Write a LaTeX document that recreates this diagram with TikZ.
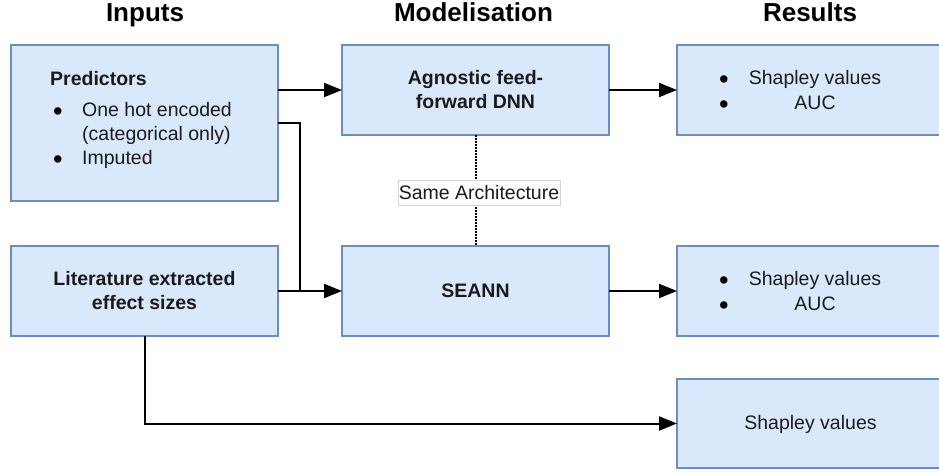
\documentclass[tikz,border=0pt]{standalone}
\usepackage{fontspec}
\setmainfont{Liberation Sans}
\usetikzlibrary{arrows.meta}
\definecolor{boxfill}{HTML}{DAE8FC}
\definecolor{boxline}{HTML}{6C8EBF}
\definecolor{txt}{HTML}{1A1A1A}
\definecolor{lblline}{HTML}{D6D6D6}
\newcommand{\bigbul}{\raisebox{-4.4pt}{\scalebox{1.4}{\textbullet}}}
\begin{document}
\begin{tikzpicture}[x=1pt,y=-1pt,
  box/.style={draw=boxline, fill=boxfill, line width=2pt, minimum width=267pt, inner sep=0pt, outer sep=0pt},
  lbl/.style={font=\fontsize{19.5}{24}\selectfont, text=txt, inner sep=0pt},
  blbl/.style={font=\fontsize{19.5}{24}\selectfont\bfseries, text=txt, inner sep=0pt},
  ttl/.style={font=\fontsize{26}{30}\selectfont\bfseries, inner sep=0pt, anchor=base},
  bul/.style={font=\fontsize{19.5}{24}\selectfont, text=black, inner sep=0pt, anchor=base},
  conn/.style={line width=2pt, -{Triangle[length=18pt,width=14pt]}},
  wire/.style={line width=2pt}]
\useasboundingbox (0,0) rectangle (939,474);

% titles
\node[ttl] (t1) at (145,21.5) {Inputs};
\node[ttl] (t2) at (473.5,21.5) {Modelisation};
\node[ttl] (t3) at (810,21.5) {Results};

% boxes
\node[box, minimum height=156pt] (pred) at (144.5,123) {};
\node[box, minimum height=90pt] (lit) at (144.5,291) {};
\node[box, minimum height=90pt] (agn) at (475.5,90) {};
\node[box, minimum height=90pt] (sea) at (475.5,291) {};
\node[box, minimum height=90pt] (res1) at (810.5,90) {};
\node[box, minimum height=90pt] (res2) at (810.5,291) {};
\node[box, minimum height=89pt] (res3) at (810.5,423.5) {};

% predictors text
\node[blbl, anchor=base west] (ptitle) at (50,85) {Predictors};
\node[bul] (pb1) at (58,116) {\bigbul};
\node[lbl, anchor=base west] (pt1) at (82,116) {One hot encoded};
\node[lbl, anchor=base west] (pt2) at (82,140) {(categorical only)};
\node[bul] (pb2) at (58,164) {\bigbul};
\node[lbl, anchor=base west] (pt3) at (82,164) {Imputed};

% other box texts
\node[blbl, align=center] (littext) at (144.5,291) {Literature extracted\\effect sizes};
\node[blbl, align=center] (agntext) at (475.5,90) {Agnostic feed-\\forward DNN};
\node[blbl] (seatext) at (475.5,291) {SEANN};

\node[bul] (r1b1) at (724,84) {\bigbul};
\node[lbl, anchor=base] (r1t1) at (815,84) {Shapley values};
\node[bul] (r1b2) at (724,109) {\bigbul};
\node[lbl, anchor=base] (r1t2) at (815,109) {AUC};

\node[bul] (r2b1) at (724,285) {\bigbul};
\node[lbl, anchor=base] (r2t1) at (815,285) {Shapley values};
\node[bul] (r2b2) at (724,310) {\bigbul};
\node[lbl, anchor=base] (r2t2) at (815,310) {AUC};

\node[lbl] (r3t) at (810.5,424) {Shapley values};

% connectors
\coordinate (j) at (300,291);
\draw[conn] (pred.east |- agn.west) -- (agn.west);
\draw[conn] (pred.east) -| (j) -- (sea.west);
\draw[wire] (lit.east) -- (j);
\draw[conn] (agn.east) -- (res1.west);
\draw[conn] (sea.east) -- (res2.west);
\draw[conn] (lit.south) |- (res3.west);

% dotted link
\draw[line width=2pt, dash pattern=on 1.5pt off 1.5pt] (agn.south) -- (sea.north);
\node[lbl, draw=lblline, fill=white, line width=0.6pt, inner xsep=1pt, minimum height=25pt] (same) at (479,192.5) {Same Architecture};
\end{tikzpicture}
\end{document}
